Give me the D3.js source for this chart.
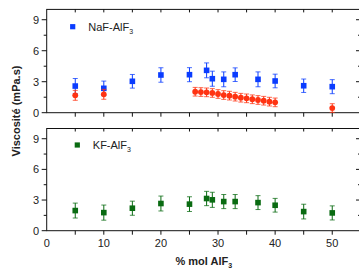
<!DOCTYPE html>
<html><head><meta charset="utf-8">
<script src="https://cdn.jsdelivr.net/npm/d3@7"></script>
<style>
html,body{margin:0;padding:0;background:#fff;}
svg{display:block;font-family:"Liberation Sans",Arial,sans-serif;}
</style></head>
<body>
<svg id="c" width="359" height="272"></svg>
<script>
// NaF-AlF3 (blue squares)
const nafX   = [5, 10, 15, 20, 25, 28, 29, 31, 33, 37, 40, 45, 50];
const nafY   = [2.58, 2.36, 3.04, 3.65, 3.68, 4.1, 3.29, 3.23, 3.68, 3.23, 3.07, 2.61, 2.52];
const nafErr = [0.73, 0.7, 0.66, 0.7, 0.68, 0.72, 0.73, 0.72, 0.66, 0.72, 0.66, 0.65, 0.68];
// second NaF-AlF3 series (red circles)
const redX   = [5, 10, 26, 27, 28, 29, 30, 31, 32, 33, 34, 35, 36, 37, 38, 39, 40, 50];
const redY   = [1.68, 1.78, 2.03, 2.0, 1.97, 1.91, 1.81, 1.71, 1.65, 1.55, 1.45, 1.39, 1.3, 1.23, 1.16, 1.07, 1.0, 0.45];
const redErr = [0.48, 0.48, 0.42, 0.42, 0.42, 0.42, 0.42, 0.42, 0.42, 0.42, 0.42, 0.42, 0.42, 0.42, 0.42, 0.42, 0.42, 0.42];
// KF-AlF3 (green squares)
const kfX   = [5, 10, 15, 20, 25, 28, 29, 31, 33, 37, 40, 45, 50];
const kfY   = [1.97, 1.77, 2.2, 2.66, 2.6, 3.15, 3.02, 2.85, 2.85, 2.75, 2.49, 1.87, 1.74];
const kfErr = [0.73, 0.74, 0.69, 0.73, 0.72, 0.7, 0.74, 0.69, 0.69, 0.68, 0.67, 0.72, 0.69];

const xTicksMajor = [0, 10, 20, 30, 40, 50];
const xTicksAll = [0, 5, 10, 15, 20, 25, 30, 35, 40, 45, 50];
const yTicksMajor = [0, 3, 6, 9];
const yTicksMinor = [1.5, 4.5, 7.5];
const legendTop = "NaF-AlF";
const legendBottom = "KF-AlF";
const xLabel = "% mol AlF";
const yLabel = "Viscosité (mPa.s)";

const svg = d3.select("#c");
const left = 46.7, right = 360.8;
const x = d3.scaleLinear().domain([0, 55]).range([left, right]);
const yT = d3.scaleLinear().domain([0, 10]).range([112.7, 9.4]);
const yB = d3.scaleLinear().domain([0, 10]).range([230.7, 128.5]);

const blue = "#0a3cff", red = "#ff3312", green = "#0a6b12";
const axisColor = "#111";

function panel(y, showLabels) {
  const g = svg.append("g");
  const [y0, y1] = y.range();
  // frame
  g.append("rect").attr("x", left).attr("y", y1).attr("width", right - left).attr("height", y0 - y1)
    .attr("fill", "none").attr("stroke", axisColor).attr("stroke-width", 1);
  // bottom ticks (outward)
  g.selectAll(".bt").data(xTicksAll.filter(d => d > 0)).join("line")
    .attr("x1", d => x(d)).attr("x2", d => x(d)).attr("y1", y0).attr("y2", y0 + 4)
    .attr("stroke", axisColor);
  // top ticks (inward)
  g.selectAll(".tt").data(xTicksAll.filter(d => d > 0)).join("line")
    .attr("x1", d => x(d)).attr("x2", d => x(d)).attr("y1", y1).attr("y2", y1 + 3)
    .attr("stroke", axisColor);
  // left ticks
  g.selectAll(".lt").data(yTicksMajor).join("line")
    .attr("x1", left - 5).attr("x2", left).attr("y1", d => y(d)).attr("y2", d => y(d)).attr("stroke", axisColor);
  g.selectAll(".lm").data(yTicksMinor).join("line")
    .attr("x1", left - 3).attr("x2", left).attr("y1", d => y(d)).attr("y2", d => y(d)).attr("stroke", axisColor);
  // right ticks (inward)
  g.selectAll(".rt").data(yTicksMajor.filter(d => d > 0)).join("line")
    .attr("x1", 356).attr("x2", right).attr("y1", d => y(d)).attr("y2", d => y(d)).attr("stroke", axisColor);
  g.selectAll(".rm").data(yTicksMinor).join("line")
    .attr("x1", 358).attr("x2", right).attr("y1", d => y(d)).attr("y2", d => y(d)).attr("stroke", axisColor);
  // y labels
  g.selectAll(".yl").data(yTicksMajor).join("text")
    .attr("x", 39).attr("y", d => y(d) + 4).attr("text-anchor", "end")
    .attr("font-size", 11).attr("fill", "#222").text(d => d);
  if (showLabels) {
    g.selectAll(".xl").data(xTicksMajor).join("text")
      .attr("x", d => x(d)).attr("y", y0 + 16.5).attr("text-anchor", "middle")
      .attr("font-size", 11).attr("fill", "#222").text(d => d);
  }
  return g;
}

function series(g, y, xs, ys, es, color, shape) {
  const data = xs.map((d, i) => ({x: d, y: ys[i], e: es[i]}));
  const cap = 2.5;
  const eg = g.append("g").attr("stroke", color).attr("stroke-width", 1);
  data.forEach(d => {
    const top = y(d.y + d.e), bot = Math.min(y(d.y - d.e), y.range()[0]);
    eg.append("line").attr("x1", x(d.x)).attr("x2", x(d.x)).attr("y1", top).attr("y2", bot);
    eg.append("line").attr("x1", x(d.x) - cap).attr("x2", x(d.x) + cap).attr("y1", top).attr("y2", top).attr("stroke-opacity", 0.75);
    eg.append("line").attr("x1", x(d.x) - cap).attr("x2", x(d.x) + cap).attr("y1", bot).attr("y2", bot).attr("stroke-opacity", 0.75);
  });
  if (shape === "square") {
    g.selectAll(null).data(data).join("rect")
      .attr("x", d => x(d.x) - 2.8).attr("y", d => y(d.y) - 2.8)
      .attr("width", 5.6).attr("height", 5.6).attr("fill", color);
  } else {
    g.selectAll(null).data(data).join("circle")
      .attr("cx", d => x(d.x)).attr("cy", d => y(d.y)).attr("r", 2.9).attr("fill", color);
  }
}

const gT = panel(yT, false);
const gB = panel(yB, true);
series(gT, yT, nafX, nafY, nafErr, blue, "square");
series(gT, yT, redX, redY, redErr, red, "circle");
series(gB, yB, kfX, kfY, kfErr, green, "square");

// legends
function legend(cx, cy, color, label) {
  svg.append("rect").attr("x", cx - 2.6).attr("y", cy - 2.6).attr("width", 5.2).attr("height", 5.2).attr("fill", color);
  const t = svg.append("text").attr("x", cx + 15.5).attr("y", cy + 4.2).attr("font-size", 11).attr("fill", "#222");
  t.append("tspan").text(label);
  t.append("tspan").attr("font-size", 7).attr("dy", 3).text("3");
}
legend(72.7, 26.7, blue, legendTop);
legend(77.3, 145, green, legendBottom);

// axis titles
const xt = svg.append("text").attr("x", (left + right) / 2).attr("y", 265).attr("text-anchor", "middle")
  .attr("font-size", 11).attr("font-weight", "bold").attr("fill", "#222");
xt.append("tspan").text(xLabel);
xt.append("tspan").attr("font-size", 7).attr("dy", 3).text("3");

svg.append("text").attr("transform", "translate(19.5,111) rotate(-90)").attr("text-anchor", "middle")
  .attr("font-size", 11).attr("font-weight", "bold").attr("fill", "#222").text(yLabel);
</script>
</body></html>
